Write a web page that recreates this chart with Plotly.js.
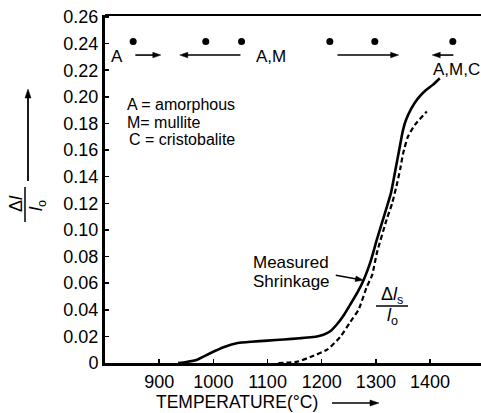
<!DOCTYPE html>
<html>
<head>
<meta charset="utf-8">
<script src="https://cdn.plot.ly/plotly-3.0.1.min.js"></script>
<style>html,body{margin:0;padding:0;background:#fff;}#chart{width:481px;height:413px;}</style>
</head>
<body>
<div id="chart"></div>
<script>
// Measured shrinkage (solid)
const measuredT = [935, 950, 970, 995, 1020, 1045, 1070, 1100, 1130, 1160, 1180, 1195, 1207, 1218, 1229, 1240, 1252, 1266, 1278, 1290, 1302, 1317, 1328, 1336, 1343, 1349, 1355, 1365, 1378, 1392, 1405, 1418];
const measuredV = [0, 0.0008, 0.0025, 0.0075, 0.012, 0.015, 0.016, 0.0168, 0.0177, 0.0186, 0.0193, 0.0203, 0.0219, 0.0247, 0.0295, 0.0355, 0.0435, 0.053, 0.063, 0.076, 0.093, 0.113, 0.128, 0.145, 0.16, 0.173, 0.182, 0.191, 0.199, 0.205, 0.209, 0.214];
// Sintering shrinkage Δls/lo (dashed)
const sinterT = [1120, 1155, 1179, 1210, 1234, 1253, 1268, 1283, 1293, 1302, 1320, 1330, 1338, 1345, 1350, 1359, 1372, 1394];
const sinterV = [0, 0.001, 0.0045, 0.01, 0.0195, 0.031, 0.04, 0.057, 0.066, 0.083, 0.108, 0.12, 0.133, 0.146, 0.157, 0.17, 0.179, 0.189];
// Phase observation points (dots at top)
const phaseDotT = [852, 986, 1052, 1215, 1298, 1442];
const phaseDotLevel = 0.2415;
// Phase arrows: tail -> head temperature
const phaseArrowFrom = [856, 1050, 1229, 1443];
const phaseArrowTo = [903, 938, 1342, 1404];
const phaseArrowLevel = 0.2314;
// Axis ticks
const xTickVals = [900, 1000, 1100, 1200, 1300, 1400];
const xTickText = ['900', '1000', '1100', '1200', '1300', '1400'];
const yTickVals = [0, 0.02, 0.04, 0.06, 0.08, 0.10, 0.12, 0.14, 0.16, 0.18, 0.20, 0.22, 0.24, 0.26];
const yTickText = ['0', '0.02', '0.04', '0.06', '0.08', '0.10', '0.12', '0.14', '0.16', '0.18', '0.20', '0.22', '0.24', '0.26'];

const W = 481, H = 413;
const L = 105, R = 481, T = 15, B = 363;
const xRange = [800, 1494], yRange = [0, 0.2615];
const px = x => (x - L) / (R - L);
const py = y => (B - y) / (B - T);
const TXT = 'Liberation Sans, Arial, sans-serif';

const traces = [
  {x: measuredT, y: measuredV, mode: 'lines', line: {color: '#000', width: 2.6, shape: 'spline', smoothing: 0.5}, hoverinfo: 'skip'},
  {x: sinterT, y: sinterV, mode: 'lines', line: {color: '#000', width: 2.2, dash: '5px,3px', shape: 'spline', smoothing: 0.5}, hoverinfo: 'skip'},
  {x: phaseDotT, y: phaseDotT.map(() => phaseDotLevel), mode: 'markers', marker: {color: '#000', size: 7}, hoverinfo: 'skip', cliponaxis: false}
];

const ann = [];
function txt(text, x, y, xanchor, size, extra) {
  ann.push(Object.assign({text: text, xref: 'paper', yref: 'paper', x: px(x), y: py(y), xanchor: xanchor || 'center', yanchor: 'middle', showarrow: false, font: {family: TXT, size: size || 17, color: '#000'}}, extra || {}));
}

const shapes = [
  {type: 'line', xref: 'paper', yref: 'paper', x0: 0, x1: 1, y0: 1, y1: 1, line: {color: '#000', width: 2}},
  {type: 'line', xref: 'paper', yref: 'paper', x0: px(376), x1: px(408), y0: py(306), y1: py(306), line: {color: '#000', width: 1.5}},
  {type: 'line', xref: 'paper', yref: 'paper', x0: px(25), x1: px(25), y0: py(187), y1: py(222), line: {color: '#000', width: 1.5}}
];

// arrow = line + filled head, built from scale factors (pixels per unit)
function arrow(xref, yref, x0, y0, x1, y1, sx, sy, w, hl, hw) {
  const dx = (x1 - x0) * sx, dy = (y1 - y0) * sy;
  const len = Math.sqrt(dx * dx + dy * dy);
  const ux = dx / len, uy = dy / len;
  const bx = x1 - ux * hl / sx, by = y1 - uy * hl / sy;
  shapes.push({type: 'line', xref: xref, yref: yref, x0: x0, y0: y0, x1: bx + ux * 1 / sx, y1: by + uy * 1 / sy, line: {color: '#000', width: w}});
  const p1x = bx + (-uy) * hw / sx, p1y = by + ux * hw / sy;
  const p2x = bx - (-uy) * hw / sx, p2y = by - ux * hw / sy;
  shapes.push({type: 'path', xref: xref, yref: yref, path: `M${x1},${y1} L${p1x},${p1y} L${p2x},${p2y} Z`, fillcolor: '#000', line: {color: '#000', width: 0.5}});
}
const sxData = (R - L) / (xRange[1] - xRange[0]);
const syData = -(B - T) / (yRange[1] - yRange[0]);
const sxPaper = (R - L), syPaper = -(B - T);

for (let i = 0; i < phaseArrowFrom.length; i++) {
  arrow('x', 'y', phaseArrowFrom[i], phaseArrowLevel, phaseArrowTo[i], phaseArrowLevel, sxData, syData, 1.6, 8, 2.8);
}
// Measured shrinkage pointer
arrow('x', 'y', 1226, 0.066, 1277, 0.0622, sxData, syData, 1.6, 8, 2.8);
// y-title up arrow
arrow('paper', 'paper', px(28), py(181), px(28), py(89), sxPaper, syPaper, 1.8, 9, 3);
// x-title right arrow
arrow('paper', 'paper', px(332), py(403), px(379), py(403), sxPaper, syPaper, 1.6, 9, 3);

txt('A', 117, 56);
txt('A,M', 254, 56, 'left');
txt('A,M,C', 431, 69, 'left');
txt('A = amorphous', 125, 105, 'left', 16);
txt('M= mullite', 125, 122, 'left', 16);
txt('C = cristobalite', 127, 139.5, 'left', 16);
txt('Measured', 251, 262, 'left');
txt('Shrinkage', 251, 281, 'left');
// Δls / lo label
txt('Δ<i>l</i><sub>s</sub>', 392, 295, 'center', 18);
txt('<i>l</i><sub>o</sub>', 392, 316, 'center', 18);
// y title
txt('Δ<i>l</i>', 16, 204, 'center', 18, {textangle: -90});
txt('<i>l</i><sub>o</sub>', 37, 206, 'center', 18, {textangle: -90});
// x title
txt('TEMPERATURE(°C)', 237, 402, 'center', 17.5);

const layout = {
  width: W, height: H,
  margin: {l: L, r: W - R, t: T, b: H - B, pad: 0},
  paper_bgcolor: '#fff', plot_bgcolor: '#fff',
  showlegend: false,
  xaxis: {range: xRange, tickvals: xTickVals, ticktext: xTickText, showline: true, linewidth: 3, linecolor: '#000', ticks: 'inside', ticklen: 4, tickwidth: 1.5, tickcolor: '#000', showgrid: false, zeroline: false, tickfont: {family: TXT, size: 18, color: '#000'}, fixedrange: true},
  yaxis: {range: yRange, tickvals: yTickVals, ticktext: yTickText, showline: true, linewidth: 3, linecolor: '#000', ticks: 'inside', ticklen: 4, tickwidth: 1.5, tickcolor: '#000', showgrid: false, zeroline: false, tickfont: {family: TXT, size: 18, color: '#000'}, fixedrange: true},
  annotations: ann,
  shapes: shapes
};

Plotly.newPlot('chart', traces, layout, {staticPlot: true, displayModeBar: false});
</script>
</body>
</html>
